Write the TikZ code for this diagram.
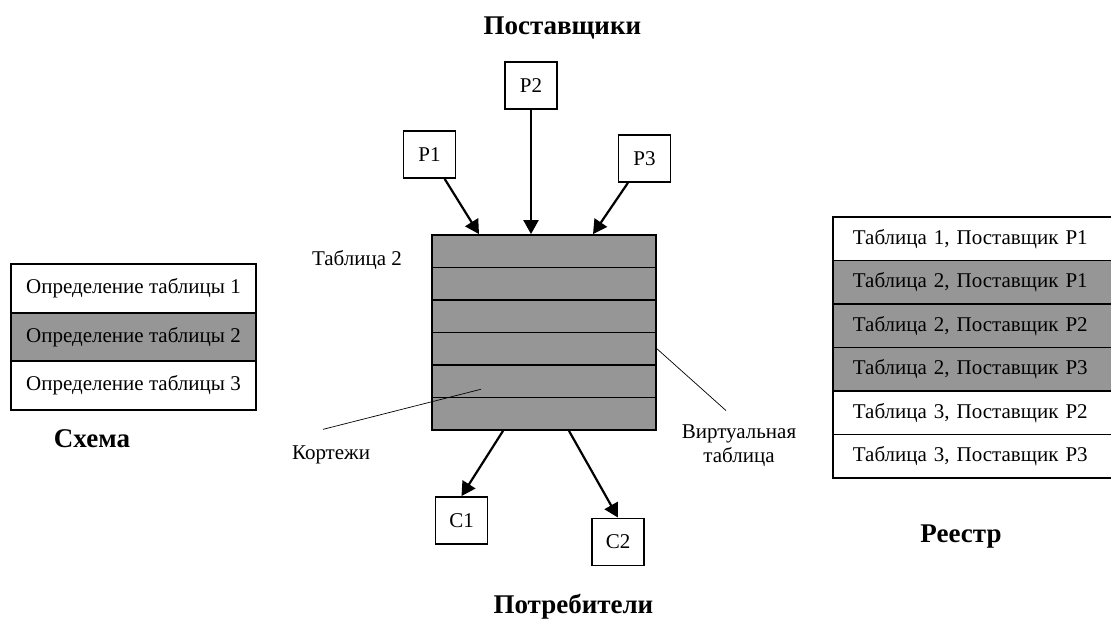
\documentclass[tikz,border=0pt]{standalone}
\usepackage{fontspec}
\setmainfont{Liberation Serif}
\usetikzlibrary{positioning,arrows.meta}
\definecolor{cellgray}{RGB}{150,150,150}

\begin{document}
\begin{tikzpicture}[x=1pt, y=-1pt,
    every node/.style={font=\fontsize{21}{24}\selectfont},
    src/.style={draw, rectangle, line width=1.8pt, minimum width=52pt, minimum height=47pt, inner sep=0pt},
    tuple/.style={draw, rectangle, line width=1.8pt, fill=cellgray, minimum width=224pt, minimum height=32.5pt, inner sep=0pt},
    schemarow/.style={draw, rectangle, line width=1.8pt, minimum width=245pt, minimum height=48.7pt, inner sep=0pt},
    regrow/.style={draw, rectangle, line width=1.8pt, anchor=west, text width=250pt, inner xsep=20pt, inner ysep=0pt, minimum height=43.5pt, align=left},
    title/.style={font=\fontsize{27}{30}\selectfont\bfseries},
    flow/.style={-{Triangle[length=14pt,width=15pt]}, line width=2.2pt},
    pointer/.style={line width=0.7pt}]
        \useasboundingbox (0,0) rectangle (1111,620);
        \clip (0,0) rectangle (1111,620);

        % Nodes
        \node (supply) [title, anchor=base west] at (480,35) {Поставщики};
        \node (P1) [src] at (429.5,154.5) {P1};
        \node (P2) [src] at (531,85.5) {P2};
        \node (P3) [src] at (644.5,158.5) {P3};
        \foreach \i in {1,...,6}
            \node (row\i) [tuple] at (544,{218.75+32.5*\i}) {};
        \node (tabname) at (357,260) {Таблица 2};
        \node (tuples) at (331,455) {Кортежи};
        \node (virtual) [align=center] at (739,446) {Виртуальная\\таблица};
        \node (C1) [src] at (461.5,520.5) {C1};
        \node (C2) [src] at (618,542) {C2};
        \node (consumers) [title, anchor=base west] at (490,613) {Потребители};

        % Schema
        \node (def1) [schemarow] at (133.5,288.3) {Определение таблицы 1};
        \node (def2) [schemarow, fill=cellgray] at (133.5,337) {Определение таблицы 2};
        \node (def3) [schemarow] at (133.5,385.7) {Определение таблицы 3};
        \node (schema) [title, anchor=base] at (92,447) {Схема};

        % Registry
        \node (reg1) [regrow] at (832,238.75) {Таблица 1, Поставщик P1};
        \node (reg2) [regrow, fill=cellgray] at (832,282.25) {Таблица 2, Поставщик P1};
        \node (reg3) [regrow, fill=cellgray] at (832,325.75) {Таблица 2, Поставщик P2};
        \node (reg4) [regrow, fill=cellgray] at (832,369.25) {Таблица 2, Поставщик P3};
        \node (reg5) [regrow] at (832,412.75) {Таблица 3, Поставщик P2};
        \node (reg6) [regrow] at (832,456.25) {Таблица 3, Поставщик P3};
        \node (registry) [title, anchor=base] at (961,542) {Реестр};

        % Arrows
        \draw [flow] (P1) -- ([xshift=-65pt]row1.north);
        \draw [flow] (P2.south) -- (P2.south |- row1.north);
        \draw [flow] (P3) -- ([xshift=49pt]row1.north);
        \draw [flow] ([xshift=-41pt]row6.south) -- (C1.north);
        \draw [flow] ([xshift=25pt]row6.south) -- (C2.north);
        \draw [pointer] ([xshift=-8pt,yshift=13pt]tuples.north) -- ([xshift=-63pt,yshift=-8pt]row5.center);
        \draw [pointer] (row4.east) -- ([xshift=-13pt,yshift=11pt]virtual.north);
    \end{tikzpicture}
\end{document}
